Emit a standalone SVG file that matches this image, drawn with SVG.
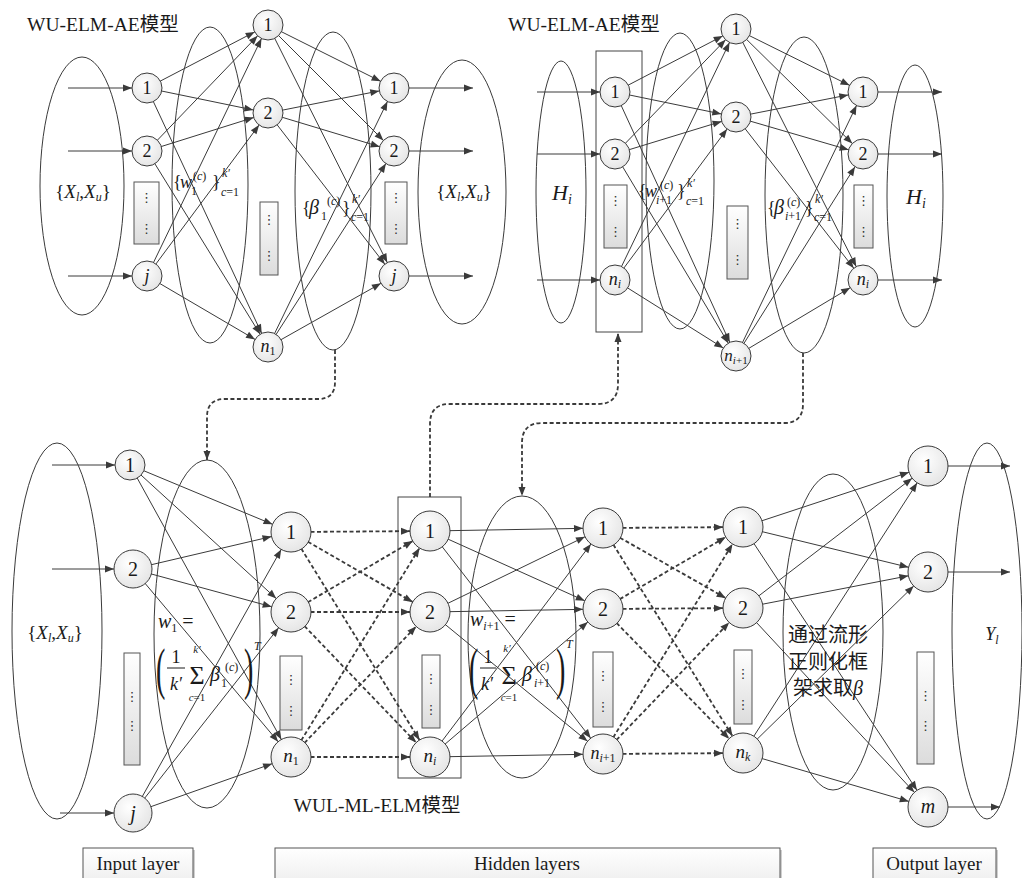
<svg xmlns="http://www.w3.org/2000/svg" width="1022" height="878" viewBox="0 0 1022 878">
<defs>
<style>
.ln{stroke:#3a3a3a;stroke-width:1;fill:none}
.dl{stroke:#3a3a3a;stroke-width:1.8;stroke-dasharray:4 2.5;fill:none}
.el{fill:none;stroke:#3a3a3a;stroke-width:1}
.nd{fill:url(#ng);stroke:#3a3a3a;stroke-width:1}
.db{fill:url(#bg);stroke:#555;stroke-width:1}
.fr{fill:none;stroke:#444;stroke-width:1}
.lb{fill:url(#lg);stroke:#555;stroke-width:1}
.t{font-family:"Liberation Serif","Noto Sans CJK SC",serif;fill:#1a1a1a}
.c{font-family:"Liberation Serif","Noto Sans CJK SC",serif;fill:#1a1a1a;text-anchor:middle}
.i{font-style:italic}
.dt{font-family:"DejaVu Sans",sans-serif;fill:#333;text-anchor:middle;font-size:13px}
</style>
<radialGradient id="ng" cx="0.4" cy="0.35" r="0.75"><stop offset="0" stop-color="#ffffff"/><stop offset="1" stop-color="#e2e2e2"/></radialGradient>
<linearGradient id="bg" x1="0" y1="0" x2="0" y2="1"><stop offset="0" stop-color="#ffffff"/><stop offset="1" stop-color="#dcdcdc"/></linearGradient>
<linearGradient id="lg" x1="0" y1="0" x2="0" y2="1"><stop offset="0" stop-color="#ffffff"/><stop offset="1" stop-color="#ececec"/></linearGradient>
<marker id="a0" markerUnits="userSpaceOnUse" markerWidth="10" markerHeight="8" refX="9" refY="3.5" orient="auto" overflow="visible"><path d="M0,0 L9,3.5 L0,7 z" fill="#3a3a3a"/></marker>
<marker id="a15" markerUnits="userSpaceOnUse" markerWidth="10" markerHeight="8" refX="24" refY="3.5" orient="auto" overflow="visible"><path d="M0,0 L9,3.5 L0,7 z" fill="#3a3a3a"/></marker>
<marker id="a19" markerUnits="userSpaceOnUse" markerWidth="10" markerHeight="8" refX="28" refY="3.5" orient="auto" overflow="visible"><path d="M0,0 L9,3.5 L0,7 z" fill="#3a3a3a"/></marker>
<marker id="a20" markerUnits="userSpaceOnUse" markerWidth="10" markerHeight="8" refX="29" refY="3.5" orient="auto" overflow="visible"><path d="M0,0 L9,3.5 L0,7 z" fill="#3a3a3a"/></marker>
</defs>
<rect width="1022" height="878" fill="#ffffff"/>

<g id="ellipses">
<ellipse class="el" cx="82" cy="186" rx="42" ry="129"/>
<ellipse class="el" cx="210" cy="185" rx="38" ry="158"/>
<ellipse class="el" cx="333" cy="191" rx="38" ry="159"/>
<ellipse class="el" cx="462" cy="192" rx="44" ry="132"/>
<ellipse class="el" cx="561" cy="192" rx="25" ry="131"/>
<ellipse class="el" cx="680" cy="181" rx="34" ry="148"/>
<ellipse class="el" cx="804" cy="195" rx="39" ry="158"/>
<ellipse class="el" cx="915" cy="196" rx="28" ry="131"/>
<ellipse class="el" cx="57" cy="631" rx="45" ry="188"/>
<ellipse class="el" cx="207" cy="634" rx="53" ry="174"/>
<ellipse class="el" cx="522" cy="637" rx="54" ry="141"/>
<ellipse class="el" cx="833" cy="632" rx="50" ry="158"/>
<ellipse class="el" cx="987" cy="631" rx="35" ry="188"/>
</g>
<g id="frames">
<rect class="fr" x="596" y="51" width="46" height="281"/>
<rect class="fr" x="398" y="497" width="63" height="281"/>
</g>

<g id="connectors">
<line class="ln" x1="68" y1="88" x2="147" y2="88" marker-end="url(#a15)"/>
<line class="ln" x1="68" y1="151" x2="147" y2="151" marker-end="url(#a15)"/>
<line class="ln" x1="68" y1="276" x2="147" y2="276" marker-end="url(#a15)"/>
<line class="ln" x1="147" y1="88" x2="268" y2="25" marker-end="url(#a15)"/>
<line class="ln" x1="147" y1="88" x2="268" y2="113" marker-end="url(#a15)"/>
<line class="ln" x1="147" y1="88" x2="268" y2="347" marker-end="url(#a15)"/>
<line class="ln" x1="147" y1="151" x2="268" y2="25" marker-end="url(#a15)"/>
<line class="ln" x1="147" y1="151" x2="268" y2="113" marker-end="url(#a15)"/>
<line class="ln" x1="147" y1="151" x2="268" y2="347" marker-end="url(#a15)"/>
<line class="ln" x1="147" y1="276" x2="268" y2="25" marker-end="url(#a15)"/>
<line class="ln" x1="147" y1="276" x2="268" y2="113" marker-end="url(#a15)"/>
<line class="ln" x1="147" y1="276" x2="268" y2="347" marker-end="url(#a15)"/>
<line class="ln" x1="268" y1="25" x2="394" y2="88" marker-end="url(#a15)"/>
<line class="ln" x1="268" y1="25" x2="394" y2="151" marker-end="url(#a15)"/>
<line class="ln" x1="268" y1="25" x2="394" y2="276" marker-end="url(#a15)"/>
<line class="ln" x1="268" y1="113" x2="394" y2="88" marker-end="url(#a15)"/>
<line class="ln" x1="268" y1="113" x2="394" y2="151" marker-end="url(#a15)"/>
<line class="ln" x1="268" y1="113" x2="394" y2="276" marker-end="url(#a15)"/>
<line class="ln" x1="268" y1="347" x2="394" y2="88" marker-end="url(#a15)"/>
<line class="ln" x1="268" y1="347" x2="394" y2="151" marker-end="url(#a15)"/>
<line class="ln" x1="268" y1="347" x2="394" y2="276" marker-end="url(#a15)"/>
<line class="ln" x1="394" y1="88" x2="473" y2="88" marker-end="url(#a0)"/>
<line class="ln" x1="394" y1="151" x2="473" y2="151" marker-end="url(#a0)"/>
<line class="ln" x1="394" y1="276" x2="473" y2="276" marker-end="url(#a0)"/>
<line class="ln" x1="537" y1="92" x2="615" y2="92" marker-end="url(#a15)"/>
<line class="ln" x1="537" y1="154" x2="615" y2="154" marker-end="url(#a15)"/>
<line class="ln" x1="537" y1="280" x2="615" y2="280" marker-end="url(#a15)"/>
<line class="ln" x1="615" y1="92" x2="736" y2="29" marker-end="url(#a15)"/>
<line class="ln" x1="615" y1="92" x2="736" y2="117" marker-end="url(#a15)"/>
<line class="ln" x1="615" y1="92" x2="736" y2="356" marker-end="url(#a15)"/>
<line class="ln" x1="615" y1="154" x2="736" y2="29" marker-end="url(#a15)"/>
<line class="ln" x1="615" y1="154" x2="736" y2="117" marker-end="url(#a15)"/>
<line class="ln" x1="615" y1="154" x2="736" y2="356" marker-end="url(#a15)"/>
<line class="ln" x1="615" y1="280" x2="736" y2="29" marker-end="url(#a15)"/>
<line class="ln" x1="615" y1="280" x2="736" y2="117" marker-end="url(#a15)"/>
<line class="ln" x1="615" y1="280" x2="736" y2="356" marker-end="url(#a15)"/>
<line class="ln" x1="736" y1="29" x2="863" y2="92" marker-end="url(#a15)"/>
<line class="ln" x1="736" y1="29" x2="863" y2="154" marker-end="url(#a15)"/>
<line class="ln" x1="736" y1="29" x2="863" y2="280" marker-end="url(#a15)"/>
<line class="ln" x1="736" y1="117" x2="863" y2="92" marker-end="url(#a15)"/>
<line class="ln" x1="736" y1="117" x2="863" y2="154" marker-end="url(#a15)"/>
<line class="ln" x1="736" y1="117" x2="863" y2="280" marker-end="url(#a15)"/>
<line class="ln" x1="736" y1="356" x2="863" y2="92" marker-end="url(#a15)"/>
<line class="ln" x1="736" y1="356" x2="863" y2="154" marker-end="url(#a15)"/>
<line class="ln" x1="736" y1="356" x2="863" y2="280" marker-end="url(#a15)"/>
<line class="ln" x1="863" y1="92" x2="942" y2="92" marker-end="url(#a0)"/>
<line class="ln" x1="863" y1="154" x2="942" y2="154" marker-end="url(#a0)"/>
<line class="ln" x1="863" y1="280" x2="942" y2="280" marker-end="url(#a0)"/>
<line class="ln" x1="52" y1="465" x2="130" y2="465" marker-end="url(#a15)"/>
<line class="ln" x1="52" y1="569" x2="133" y2="569" marker-end="url(#a19)"/>
<line class="ln" x1="60" y1="813" x2="133" y2="813" marker-end="url(#a19)"/>
<line class="ln" x1="130" y1="465" x2="291" y2="532" marker-end="url(#a20)"/>
<line class="ln" x1="130" y1="465" x2="291" y2="612" marker-end="url(#a20)"/>
<line class="ln" x1="130" y1="465" x2="291" y2="757" marker-end="url(#a20)"/>
<line class="ln" x1="133" y1="569" x2="291" y2="532" marker-end="url(#a20)"/>
<line class="ln" x1="133" y1="569" x2="291" y2="612" marker-end="url(#a20)"/>
<line class="ln" x1="133" y1="569" x2="291" y2="757" marker-end="url(#a20)"/>
<line class="ln" x1="133" y1="813" x2="291" y2="532" marker-end="url(#a20)"/>
<line class="ln" x1="133" y1="813" x2="291" y2="612" marker-end="url(#a20)"/>
<line class="ln" x1="133" y1="813" x2="291" y2="757" marker-end="url(#a20)"/>
<line class="dl" x1="291" y1="532" x2="430" y2="531" marker-end="url(#a20)"/>
<line class="dl" x1="291" y1="532" x2="430" y2="612" marker-end="url(#a20)"/>
<line class="dl" x1="291" y1="532" x2="430" y2="757" marker-end="url(#a20)"/>
<line class="dl" x1="291" y1="612" x2="430" y2="531" marker-end="url(#a20)"/>
<line class="dl" x1="291" y1="612" x2="430" y2="612" marker-end="url(#a20)"/>
<line class="dl" x1="291" y1="612" x2="430" y2="757" marker-end="url(#a20)"/>
<line class="dl" x1="291" y1="757" x2="430" y2="531" marker-end="url(#a20)"/>
<line class="dl" x1="291" y1="757" x2="430" y2="612" marker-end="url(#a20)"/>
<line class="dl" x1="291" y1="757" x2="430" y2="757" marker-end="url(#a20)"/>
<line class="ln" x1="430" y1="531" x2="603" y2="528" marker-end="url(#a20)"/>
<line class="ln" x1="430" y1="531" x2="603" y2="609" marker-end="url(#a20)"/>
<line class="ln" x1="430" y1="531" x2="603" y2="754" marker-end="url(#a20)"/>
<line class="ln" x1="430" y1="612" x2="603" y2="528" marker-end="url(#a20)"/>
<line class="ln" x1="430" y1="612" x2="603" y2="609" marker-end="url(#a20)"/>
<line class="ln" x1="430" y1="612" x2="603" y2="754" marker-end="url(#a20)"/>
<line class="ln" x1="430" y1="757" x2="603" y2="528" marker-end="url(#a20)"/>
<line class="ln" x1="430" y1="757" x2="603" y2="609" marker-end="url(#a20)"/>
<line class="ln" x1="430" y1="757" x2="603" y2="754" marker-end="url(#a20)"/>
<line class="dl" x1="603" y1="528" x2="743" y2="527" marker-end="url(#a20)"/>
<line class="dl" x1="603" y1="528" x2="743" y2="608" marker-end="url(#a20)"/>
<line class="dl" x1="603" y1="528" x2="743" y2="753" marker-end="url(#a20)"/>
<line class="dl" x1="603" y1="609" x2="743" y2="527" marker-end="url(#a20)"/>
<line class="dl" x1="603" y1="609" x2="743" y2="608" marker-end="url(#a20)"/>
<line class="dl" x1="603" y1="609" x2="743" y2="753" marker-end="url(#a20)"/>
<line class="dl" x1="603" y1="754" x2="743" y2="527" marker-end="url(#a20)"/>
<line class="dl" x1="603" y1="754" x2="743" y2="608" marker-end="url(#a20)"/>
<line class="dl" x1="603" y1="754" x2="743" y2="753" marker-end="url(#a20)"/>
<line class="ln" x1="743" y1="527" x2="928" y2="466" marker-end="url(#a20)"/>
<line class="ln" x1="743" y1="527" x2="928" y2="572" marker-end="url(#a20)"/>
<line class="ln" x1="743" y1="527" x2="928" y2="807" marker-end="url(#a20)"/>
<line class="ln" x1="743" y1="608" x2="928" y2="466" marker-end="url(#a20)"/>
<line class="ln" x1="743" y1="608" x2="928" y2="572" marker-end="url(#a20)"/>
<line class="ln" x1="743" y1="608" x2="928" y2="807" marker-end="url(#a20)"/>
<line class="ln" x1="743" y1="753" x2="928" y2="466" marker-end="url(#a20)"/>
<line class="ln" x1="743" y1="753" x2="928" y2="572" marker-end="url(#a20)"/>
<line class="ln" x1="743" y1="753" x2="928" y2="807" marker-end="url(#a20)"/>
<line class="ln" x1="928" y1="466" x2="1010" y2="466" marker-end="url(#a0)"/>
<line class="ln" x1="928" y1="572" x2="1010" y2="572" marker-end="url(#a0)"/>
<line class="ln" x1="928" y1="807" x2="1000" y2="807" marker-end="url(#a0)"/>
<path class="dl" d="M335,350 V382 Q335,399 318,399 H225 Q207,399 207,417 V460" marker-end="url(#a0)"/>
<path class="dl" d="M430,497 V424 Q430,404 450,404 H598 Q618,404 618,384 V333" marker-end="url(#a0)"/>
<path class="dl" d="M803,353 V404 Q803,423 784,423 H542 Q522,423 522,443 V496" marker-end="url(#a0)"/>
</g>

<g id="dots">
<rect class="db" x="134" y="182" width="25" height="62"/><text class="dt" x="146.5" y="202">⋮</text><text class="dt" x="146.5" y="233">⋮</text>
<rect class="db" x="260" y="202" width="18" height="73"/><text class="dt" x="269" y="224">⋮</text><text class="dt" x="269" y="260">⋮</text>
<rect class="db" x="385" y="182" width="22" height="62"/><text class="dt" x="396" y="202">⋮</text><text class="dt" x="396" y="233">⋮</text>
<rect class="db" x="604" y="185" width="23" height="63"/><text class="dt" x="615.5" y="205">⋮</text><text class="dt" x="615.5" y="236">⋮</text>
<rect class="db" x="727" y="206" width="21" height="73"/><text class="dt" x="737.5" y="228">⋮</text><text class="dt" x="737.5" y="264">⋮</text>
<rect class="db" x="854" y="185" width="19" height="63"/><text class="dt" x="863.5" y="205">⋮</text><text class="dt" x="863.5" y="236">⋮</text>
<rect class="db" x="124" y="653" width="16" height="112"/><text class="dt" x="132" y="701">⋮</text><text class="dt" x="132" y="730">⋮</text>
<rect class="db" x="280" y="656" width="22" height="74"/><text class="dt" x="291" y="684">⋮</text><text class="dt" x="291" y="715">⋮</text>
<rect class="db" x="422" y="655" width="18" height="73"/><text class="dt" x="431" y="683">⋮</text><text class="dt" x="431" y="714">⋮</text>
<rect class="db" x="593" y="652" width="20" height="75"/><text class="dt" x="603" y="680">⋮</text><text class="dt" x="603" y="711">⋮</text>
<rect class="db" x="734" y="650" width="18" height="74"/><text class="dt" x="743" y="678">⋮</text><text class="dt" x="743" y="709">⋮</text>
<rect class="db" x="917" y="652" width="17" height="112"/><text class="dt" x="925.5" y="700">⋮</text><text class="dt" x="925.5" y="730">⋮</text>
</g>

<g id="tl-in1"><circle class="nd" cx="147" cy="88" r="15"/><text class="c" x="147" y="94" font-size="18">1</text></g>
<g id="tl-in2"><circle class="nd" cx="147" cy="151" r="15"/><text class="c" x="147" y="157" font-size="18">2</text></g>
<g id="tl-inj"><circle class="nd" cx="147" cy="276" r="15"/><text class="c i" x="147" y="282" font-size="18">j</text></g>
<g id="tl-h1"><circle class="nd" cx="268" cy="25" r="15"/><text class="c" x="268" y="31" font-size="18">1</text></g>
<g id="tl-h2"><circle class="nd" cx="268" cy="113" r="15"/><text class="c" x="268" y="119" font-size="18">2</text></g>
<g id="tl-hn"><circle class="nd" cx="268" cy="347" r="15"/><text class="c" x="268" y="352" font-size="18"><tspan class="i">n</tspan><tspan font-size="12" dy="3">1</tspan></text></g>
<g id="tl-o1"><circle class="nd" cx="394" cy="88" r="15"/><text class="c" x="394" y="94" font-size="18">1</text></g>
<g id="tl-o2"><circle class="nd" cx="394" cy="151" r="15"/><text class="c" x="394" y="157" font-size="18">2</text></g>
<g id="tl-oj"><circle class="nd" cx="394" cy="276" r="15"/><text class="c i" x="394" y="282" font-size="18">j</text></g>

<g id="tr-in1"><circle class="nd" cx="615" cy="92" r="15"/><text class="c" x="615" y="98" font-size="18">1</text></g>
<g id="tr-in2"><circle class="nd" cx="615" cy="154" r="15"/><text class="c" x="615" y="160" font-size="18">2</text></g>
<g id="tr-inn"><circle class="nd" cx="615" cy="280" r="15"/><text class="c" x="615" y="285" font-size="18"><tspan class="i">n</tspan><tspan class="i" font-size="12" dy="3">i</tspan></text></g>
<g id="tr-h1"><circle class="nd" cx="736" cy="29" r="15"/><text class="c" x="736" y="35" font-size="18">1</text></g>
<g id="tr-h2"><circle class="nd" cx="736" cy="117" r="15"/><text class="c" x="736" y="123" font-size="18">2</text></g>
<g id="tr-hn"><circle class="nd" cx="736" cy="356" r="15"/><text class="c" x="736" y="361" font-size="17"><tspan class="i">n</tspan><tspan font-size="11" dy="3"><tspan class="i">i</tspan>+1</tspan></text></g>
<g id="tr-o1"><circle class="nd" cx="863" cy="92" r="15"/><text class="c" x="863" y="98" font-size="18">1</text></g>
<g id="tr-o2"><circle class="nd" cx="863" cy="154" r="15"/><text class="c" x="863" y="160" font-size="18">2</text></g>
<g id="tr-on"><circle class="nd" cx="863" cy="280" r="15"/><text class="c" x="863" y="285" font-size="18"><tspan class="i">n</tspan><tspan class="i" font-size="12" dy="3">i</tspan></text></g>

<g id="b-in1"><circle class="nd" cx="130" cy="465" r="15"/><text class="c" x="130" y="472" font-size="20">1</text></g>
<g id="b-in2"><circle class="nd" cx="133" cy="569" r="19"/><text class="c" x="133" y="576" font-size="20">2</text></g>
<g id="b-inj"><circle class="nd" cx="133" cy="813" r="19"/><text class="c i" x="133" y="820" font-size="20">j</text></g>
<g id="b-h1-1"><circle class="nd" cx="291" cy="532" r="20"/><text class="c" x="291" y="539" font-size="20">1</text></g>
<g id="b-h1-2"><circle class="nd" cx="291" cy="612" r="20"/><text class="c" x="291" y="619" font-size="20">2</text></g>
<g id="b-h1-n"><circle class="nd" cx="291" cy="757" r="20"/><text class="c" x="291" y="762" font-size="19"><tspan class="i">n</tspan><tspan font-size="12" dy="3">1</tspan></text></g>
<g id="b-hi-1"><circle class="nd" cx="430" cy="531" r="20"/><text class="c" x="430" y="538" font-size="20">1</text></g>
<g id="b-hi-2"><circle class="nd" cx="430" cy="612" r="20"/><text class="c" x="430" y="619" font-size="20">2</text></g>
<g id="b-hi-n"><circle class="nd" cx="430" cy="757" r="20"/><text class="c" x="430" y="762" font-size="19"><tspan class="i">n</tspan><tspan class="i" font-size="12" dy="3">i</tspan></text></g>
<g id="b-hj-1"><circle class="nd" cx="603" cy="528" r="20"/><text class="c" x="603" y="535" font-size="20">1</text></g>
<g id="b-hj-2"><circle class="nd" cx="603" cy="609" r="20"/><text class="c" x="603" y="616" font-size="20">2</text></g>
<g id="b-hj-n"><circle class="nd" cx="603" cy="754" r="20"/><text class="c" x="603" y="759" font-size="18"><tspan class="i">n</tspan><tspan font-size="12" dy="3"><tspan class="i">i</tspan>+1</tspan></text></g>
<g id="b-hk-1"><circle class="nd" cx="743" cy="527" r="20"/><text class="c" x="743" y="534" font-size="20">1</text></g>
<g id="b-hk-2"><circle class="nd" cx="743" cy="608" r="20"/><text class="c" x="743" y="615" font-size="20">2</text></g>
<g id="b-hk-n"><circle class="nd" cx="743" cy="753" r="20"/><text class="c" x="743" y="758" font-size="19"><tspan class="i">n</tspan><tspan class="i" font-size="12" dy="3">k</tspan></text></g>
<g id="b-o1"><circle class="nd" cx="928" cy="466" r="20"/><text class="c" x="928" y="473" font-size="20">1</text></g>
<g id="b-o2"><circle class="nd" cx="928" cy="572" r="20"/><text class="c" x="928" y="579" font-size="20">2</text></g>
<g id="b-om"><circle class="nd" cx="928" cy="807" r="20"/><text class="c i" x="928" y="813" font-size="20">m</text></g>

<g id="labels">
<text class="t" x="27" y="31" font-size="19.5">WU-ELM-AE模型</text>
<text class="t" x="508" y="31" font-size="19.5">WU-ELM-AE模型</text>
<text class="c" x="377" y="812" font-size="19.5">WUL-ML-ELM模型</text>

<text class="c" x="83" y="198" font-size="19">{<tspan class="i">X</tspan><tspan class="i" font-size="12" dy="3">l</tspan><tspan dy="-3">,</tspan><tspan class="i">X</tspan><tspan class="i" font-size="12" dy="3">u</tspan><tspan dy="-3">}</tspan></text>
<text class="c" x="464" y="198" font-size="19">{<tspan class="i">X</tspan><tspan class="i" font-size="12" dy="3">l</tspan><tspan dy="-3">,</tspan><tspan class="i">X</tspan><tspan class="i" font-size="12" dy="3">u</tspan><tspan dy="-3">}</tspan></text>
<text class="c" x="55" y="639" font-size="19">{<tspan class="i">X</tspan><tspan class="i" font-size="12" dy="3">l</tspan><tspan dy="-3">,</tspan><tspan class="i">X</tspan><tspan class="i" font-size="12" dy="3">u</tspan><tspan dy="-3">}</tspan></text>

<text class="c" x="562" y="200" font-size="22"><tspan class="i">H</tspan><tspan class="i" font-size="14" dy="4">i</tspan></text>
<text class="c" x="916" y="204" font-size="22"><tspan class="i">H</tspan><tspan class="i" font-size="14" dy="4">i</tspan></text>
<text class="c" x="992" y="640" font-size="18"><tspan class="i">Y</tspan><tspan class="i" font-size="12" dy="4">l</tspan></text>

<text class="t" x="173" y="188" font-size="18">{</text>
<text class="t i" x="180" y="188" font-size="18">w</text>
<text class="t" x="193" y="180" font-size="12">(<tspan class="i">c</tspan>)</text>
<text class="t" x="191" y="195" font-size="12">1</text>
<text class="t" x="212" y="188" font-size="18">}</text>
<text class="t i" x="222" y="177" font-size="12">k′</text>
<text class="t" x="221" y="196" font-size="12"><tspan class="i">c</tspan>=1</text>

<text class="t" x="302" y="214" font-size="18">{</text>
<text class="t i" x="309" y="214" font-size="20">β</text>
<text class="t" x="327" y="205" font-size="12">(<tspan class="i">c</tspan>)</text>
<text class="t" x="321" y="220" font-size="12">1</text>
<text class="t" x="342" y="214" font-size="18">}</text>
<text class="t i" x="352" y="203" font-size="12">k′</text>
<text class="t" x="351" y="221" font-size="12"><tspan class="i">c</tspan>=1</text>

<text class="t" x="638" y="197" font-size="18">{</text>
<text class="t i" x="645" y="197" font-size="18">w</text>
<text class="t" x="660" y="189" font-size="12">(<tspan class="i">c</tspan>)</text>
<text class="t" x="656" y="204" font-size="12"><tspan class="i">i</tspan>+1</text>
<text class="t" x="677" y="197" font-size="18">}</text>
<text class="t i" x="687" y="187" font-size="12">k′</text>
<text class="t" x="686" y="205" font-size="12"><tspan class="i">c</tspan>=1</text>

<text class="t" x="767" y="214" font-size="18">{</text>
<text class="t i" x="774" y="214" font-size="20">β</text>
<text class="t" x="787" y="206" font-size="12">(<tspan class="i">c</tspan>)</text>
<text class="t" x="785" y="220" font-size="12"><tspan class="i">i</tspan>+1</text>
<text class="t" x="805" y="214" font-size="18">}</text>
<text class="t i" x="815" y="203" font-size="12">k′</text>
<text class="t" x="814" y="221" font-size="12"><tspan class="i">c</tspan>=1</text>

<text class="t" x="158" y="628" font-size="20"><tspan class="i">w</tspan><tspan font-size="12" dy="4">1</tspan><tspan dy="-4"> =</tspan></text>
<text class="t" font-size="56" transform="translate(156,688) scale(0.5,1)">(</text>
<text class="c" x="176" y="663" font-size="18">1</text>
<line x1="167" y1="668" x2="185" y2="668" stroke="#1a1a1a" stroke-width="1"/>
<text class="c i" x="176" y="690" font-size="18">k′</text>
<text class="c" x="197" y="684" font-size="26">Σ</text>
<text class="c i" x="197" y="653" font-size="11">k′</text>
<text class="c" x="197" y="701" font-size="11"><tspan class="i">c</tspan>=1</text>
<text class="t i" x="210" y="681" font-size="20">β</text>
<text class="t" x="221" y="687" font-size="12">1</text>
<text class="t" x="225" y="671" font-size="12">(<tspan class="i">c</tspan>)</text>
<text class="t" font-size="56" transform="translate(244,688) scale(0.5,1)">)</text>
<text class="t i" x="254" y="650" font-size="12">T</text>

<text class="t" x="470" y="626" font-size="20"><tspan class="i">w</tspan><tspan font-size="12" dy="4"><tspan class="i">i</tspan>+1</tspan><tspan dy="-4"> =</tspan></text>
<text class="t" font-size="56" transform="translate(469,688) scale(0.5,1)">(</text>
<text class="c" x="488" y="663" font-size="18">1</text>
<line x1="480" y1="668" x2="496" y2="668" stroke="#1a1a1a" stroke-width="1"/>
<text class="c i" x="487" y="690" font-size="18">k′</text>
<text class="c" x="509" y="684" font-size="26">Σ</text>
<text class="c i" x="507" y="652" font-size="11">k′</text>
<text class="c" x="509" y="701" font-size="11"><tspan class="i">c</tspan>=1</text>
<text class="t i" x="522" y="681" font-size="20">β</text>
<text class="t" x="534" y="687" font-size="12"><tspan class="i">i</tspan>+1</text>
<text class="t" x="536" y="670" font-size="12">(<tspan class="i">c</tspan>)</text>
<text class="t" font-size="56" transform="translate(556,688) scale(0.5,1)">)</text>
<text class="t i" x="566" y="648" font-size="12">T</text>

<text class="c" x="828" y="642" font-size="20">通过流形</text>
<text class="c" x="828" y="669" font-size="20">正则化框</text>
<text class="c" x="828" y="695" font-size="20">架求取<tspan class="i">β</tspan></text>
</g>

<g id="layer-input"><rect x="85" y="850" width="110" height="40" fill="#cfcfcf"/><rect class="lb" x="83" y="848" width="110" height="40"/><text class="c" x="138" y="870" font-size="19">Input layer</text></g>
<g id="layer-hidden"><rect x="277" y="850" width="505" height="40" fill="#cfcfcf"/><rect class="lb" x="275" y="848" width="505" height="40"/><text class="c" x="527" y="870" font-size="19">Hidden layers</text></g>
<g id="layer-output"><rect x="875" y="850" width="123" height="40" fill="#cfcfcf"/><rect class="lb" x="873" y="848" width="123" height="40"/><text class="c" x="934" y="870" font-size="19">Output layer</text></g>
</svg>
